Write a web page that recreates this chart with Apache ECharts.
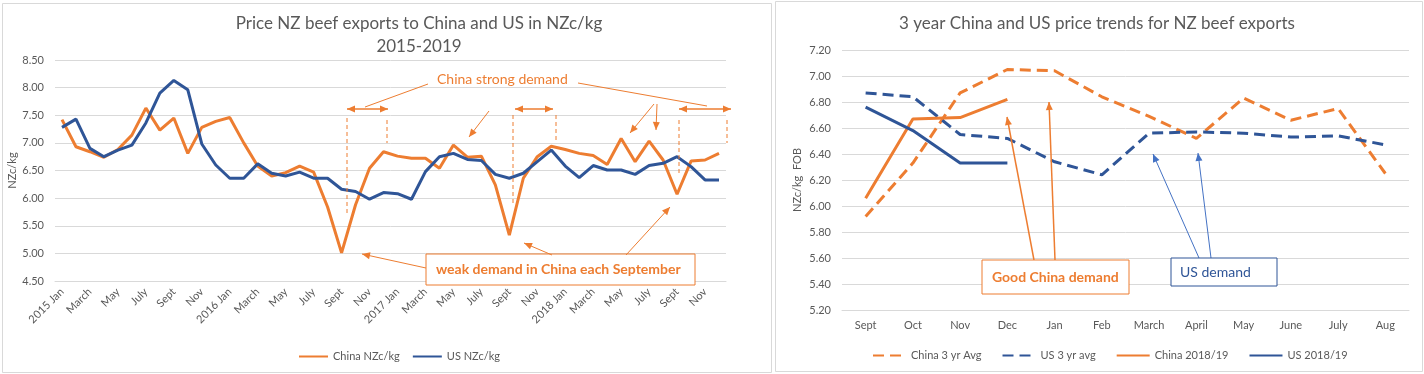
<!DOCTYPE html>
<html><head><meta charset="utf-8">
<script src="https://cdn.jsdelivr.net/npm/echarts@6/dist/echarts.min.js"></script>
<style>html,body{margin:0;padding:0;background:#fff}#c{width:1424px;height:374px}</style>
</head><body><div id="c"></div>
<script>
// ---------- data ----------
const leftMonths = [
  '2015 Jan','Feb','March','April','May','June','July','Aug','Sept','Oct','Nov','Dec',
  '2016 Jan','Feb','March','April','May','June','July','Aug','Sept','Oct','Nov','Dec',
  '2017 Jan','Feb','March','April','May','June','July','Aug','Sept','Oct','Nov','Dec',
  '2018 Jan','Feb','March','April','May','June','July','Aug','Sept','Oct','Nov','Dec'
];
const chinaMonthly = [
  7.42, 6.93, 6.84, 6.74, 6.88, 7.14, 7.63, 7.23, 7.45, 6.81, 7.28, 7.39,
  7.46, 7.00, 6.58, 6.40, 6.46, 6.58, 6.47, 5.84, 5.01, 5.88, 6.54, 6.84,
  6.76, 6.72, 6.72, 6.54, 6.96, 6.74, 6.76, 6.24, 5.33, 6.36, 6.75, 6.94,
  6.88, 6.81, 6.77, 6.61, 7.08, 6.66, 7.03, 6.69, 6.07, 6.67, 6.69, 6.81
];
const usMonthly = [
  7.28, 7.43, 6.90, 6.75, 6.87, 6.96, 7.36, 7.90, 8.13, 7.96, 6.98, 6.60,
  6.36, 6.36, 6.62, 6.45, 6.40, 6.47, 6.36, 6.36, 6.16, 6.12, 5.98, 6.10,
  6.08, 5.98, 6.48, 6.75, 6.81, 6.70, 6.68, 6.43, 6.36, 6.45, 6.66, 6.87,
  6.58, 6.37, 6.59, 6.51, 6.51, 6.43, 6.59, 6.63, 6.75, 6.57, 6.33, 6.33
];
const leftYAxis = { min: 4.5, max: 8.5, interval: 0.5 };

const rightMonths = ['Sept','Oct','Nov','Dec','Jan','Feb','March','April','May','June','July','Aug'];
const china3yrAvg = [5.92, 6.33, 6.87, 7.05, 7.04, 6.84, 6.69, 6.52, 6.83, 6.66, 6.75, 6.25];
const us3yrAvg    = [6.87, 6.84, 6.55, 6.52, 6.34, 6.24, 6.56, 6.57, 6.56, 6.53, 6.54, 6.47];
const china1819   = [6.06, 6.67, 6.68, 6.82, null, null, null, null, null, null, null, null];
const us1819      = [6.76, 6.58, 6.33, 6.33, null, null, null, null, null, null, null, null];
const rightYAxis = { min: 5.2, max: 7.2, interval: 0.2 };

// ---------- styles ----------
const FONT = 'Lato, "Liberation Sans", sans-serif';
const ORANGE = '#ED7D31', BLUE = '#2F5597', LBLUE = '#4472C4', GREY = '#595959', GRID = '#d9d9d9';

function arrow(x1, y1, x2, y2, color, w, both) {
  const els = [];
  const L = 8, W = 3.5;
  const head = (tx, ty, fx, fy) => {
    const a = Math.atan2(ty - fy, tx - fx);
    const bx = tx - L * Math.cos(a), by = ty - L * Math.sin(a);
    return { type: 'polygon', z: 100, shape: { points: [[tx, ty], [bx + W * Math.sin(a), by - W * Math.cos(a)], [bx - W * Math.sin(a), by + W * Math.cos(a)]] }, style: { fill: color } };
  };
  els.push({ type: 'line', z: 100, shape: { x1, y1, x2, y2 }, style: { stroke: color, lineWidth: w } });
  els.push(head(x2, y2, x1, y1));
  if (both) els.push(head(x1, y1, x2, y2));
  return els;
}
function plain(x1, y1, x2, y2, color, w, dash) {
  return { type: 'line', z: 100, shape: { x1, y1, x2, y2 }, style: { stroke: color, lineWidth: w, lineDash: dash || null } };
}
function box(x, y, w, h, stroke, text, tx, weight, color) {
  return [
    { type: 'rect', z: 100, shape: { x, y, width: w, height: h }, style: { fill: '#fff', stroke, lineWidth: 1 } },
    { type: 'text', z: 101, style: { x: tx, y: y + h / 2, text, fill: color, font: weight + ' 14px ' + FONT, align: 'left', verticalAlign: 'middle' } }
  ];
}

const g = [];
// chart frames
g.push({ type: 'rect', z: 0, shape: { x: 2.5, y: 3.5, width: 769, height: 369 }, style: { fill: 'none', stroke: GRID, lineWidth: 1 } });
g.push({ type: 'rect', z: 0, shape: { x: 775.5, y: 1.5, width: 647, height: 370 }, style: { fill: 'none', stroke: GRID, lineWidth: 1 } });

// left annotations
g.push({ type: 'text', z: 101, style: { x: 437, y: 79, text: 'China strong demand', fill: ORANGE, font: '14px ' + FONT, align: 'left', verticalAlign: 'middle' } });
g.push(plain(428, 84, 365, 107, ORANGE, 1));
g.push(plain(578, 83, 707, 106, ORANGE, 1));
g.push(...arrow(347, 109, 388, 109, ORANGE, 1.5, true));
g.push(...arrow(515, 109, 553, 109, ORANGE, 1.5, true));
g.push(...arrow(679, 109, 731, 109, ORANGE, 1.5, true));
g.push(plain(347, 118, 347, 213, ORANGE, 1, [4, 3]));
g.push(plain(387, 120, 387, 143, ORANGE, 1, [4, 3]));
g.push(plain(513, 115, 513, 203, ORANGE, 1, [4, 3]));
g.push(plain(556, 115, 556, 143, ORANGE, 1, [4, 3]));
g.push(plain(679, 120, 679, 173, ORANGE, 1, [4, 3]));
g.push(plain(727, 120, 727, 143, ORANGE, 1, [4, 3]));
g.push(...arrow(489, 111, 469, 137, ORANGE, 1, false));
g.push(...arrow(654, 104, 630, 133, ORANGE, 1, false));
g.push(...arrow(657, 104, 656, 130, ORANGE, 1, false));
g.push(...box(426, 254, 269, 31, ORANGE, 'weak demand in China each September', 436, 'bold', ORANGE));
g.push(...arrow(426, 268, 362, 254, ORANGE, 1, false));
g.push(...arrow(552, 255, 524, 243, ORANGE, 1, false));
g.push(...arrow(626, 255, 670, 207, ORANGE, 1, false));

// right annotations
g.push(...arrow(1034, 260, 1007, 117, ORANGE, 1.5, false));
g.push(...arrow(1055, 260, 1049, 102, ORANGE, 1.5, false));
g.push(...box(982, 260, 147, 34, ORANGE, 'Good China demand', 992, 'bold', ORANGE));
g.push(...arrow(1199, 258, 1153, 154, LBLUE, 1, false));
g.push(...arrow(1211, 258, 1198, 153, LBLUE, 1, false));
g.push(...box(1171, 258, 106, 28, BLUE, 'US demand', 1180, 'normal', BLUE));

const yLabel = { fontSize: 11, color: GREY, fontFamily: FONT, formatter: v => v.toFixed(2), margin: 11 };
const hiddenSymbol = { color: 'rgba(0,0,0,0)', borderWidth: 0, opacity: 0 };

const option = {
  animation: false,
  backgroundColor: '#fff',
  textStyle: { fontFamily: FONT },
  title: [
    { text: 'Price NZ beef exports to China and US in NZc/kg\n2015-2019', left: 414, top: 7, textAlign: 'center',
      textStyle: { fontSize: 17, fontWeight: 'normal', color: GREY, lineHeight: 23, fontFamily: FONT } },
    { text: '3 year China and US price trends for NZ beef exports', left: 1092, top: 7, textAlign: 'center',
      textStyle: { fontSize: 17, fontWeight: 'normal', color: GREY, lineHeight: 23, fontFamily: FONT } }
  ],
  legend: [
    { data: ['China NZc/kg', 'US NZc/kg'], left: 293, top: 346, itemWidth: 29, itemHeight: 12, itemGap: 12,
      itemStyle: hiddenSymbol,
      textStyle: { fontSize: 11, color: GREY, fontFamily: FONT } },
    { data: ['China 3 yr Avg', 'US 3 yr avg', 'China 2018/19', 'US 2018/19'], left: 867, top: 345, itemWidth: 33, itemHeight: 12, itemGap: 20,
      itemStyle: hiddenSymbol,
      textStyle: { fontSize: 11, color: GREY, fontFamily: FONT } }
  ],
  grid: [
    { left: 55, top: 60, width: 671, height: 221 },
    { left: 842, top: 50, width: 567, height: 260 }
  ],
  xAxis: [
    { type: 'category', gridIndex: 0, data: leftMonths, axisTick: { show: false },
      axisLine: { lineStyle: { color: GRID } },
      axisLabel: { interval: 1, rotate: 45, fontSize: 11, color: GREY, margin: 9 } },
    { type: 'category', gridIndex: 1, data: rightMonths, axisTick: { show: false },
      axisLine: { lineStyle: { color: GRID } },
      axisLabel: { interval: 0, fontSize: 11, color: GREY, margin: 10 } }
  ],
  yAxis: [
    { type: 'value', gridIndex: 0, min: leftYAxis.min, max: leftYAxis.max, interval: leftYAxis.interval,
      name: 'NZc/kg', nameLocation: 'middle', nameRotate: 90, nameGap: 37,
      nameTextStyle: { fontSize: 11, color: GREY },
      axisLine: { show: false }, axisTick: { show: false },
      splitLine: { lineStyle: { color: GRID } }, axisLabel: yLabel },
    { type: 'value', gridIndex: 1, min: rightYAxis.min, max: rightYAxis.max, interval: rightYAxis.interval,
      name: 'NZc/kg  FOB', nameLocation: 'middle', nameRotate: 90, nameGap: 39,
      nameTextStyle: { fontSize: 11, color: GREY },
      axisLine: { show: false }, axisTick: { show: false },
      splitLine: { lineStyle: { color: GRID } }, axisLabel: yLabel }
  ],
  series: [
    { name: 'China NZc/kg', type: 'line', xAxisIndex: 0, yAxisIndex: 0, data: chinaMonthly, symbol: 'none',
      color: ORANGE, lineStyle: { width: 3, color: ORANGE } },
    { name: 'US NZc/kg', type: 'line', xAxisIndex: 0, yAxisIndex: 0, data: usMonthly, symbol: 'none',
      color: BLUE, lineStyle: { width: 3, color: BLUE } },
    { name: 'China 3 yr Avg', type: 'line', xAxisIndex: 1, yAxisIndex: 1, data: china3yrAvg, symbol: 'none',
      color: ORANGE, lineStyle: { width: 3, color: ORANGE, type: [11, 6] } },
    { name: 'US 3 yr avg', type: 'line', xAxisIndex: 1, yAxisIndex: 1, data: us3yrAvg, symbol: 'none',
      color: BLUE, lineStyle: { width: 3, color: BLUE, type: [11, 6] } },
    { name: 'China 2018/19', type: 'line', xAxisIndex: 1, yAxisIndex: 1, data: china1819, symbol: 'none',
      color: ORANGE, lineStyle: { width: 3, color: ORANGE } },
    { name: 'US 2018/19', type: 'line', xAxisIndex: 1, yAxisIndex: 1, data: us1819, symbol: 'none',
      color: BLUE, lineStyle: { width: 3, color: BLUE } }
  ],
  graphic: { elements: g }
};
const chart = echarts.init(document.getElementById('c'), null, { renderer: 'canvas' });
chart.setOption(option);
</script></body></html>
